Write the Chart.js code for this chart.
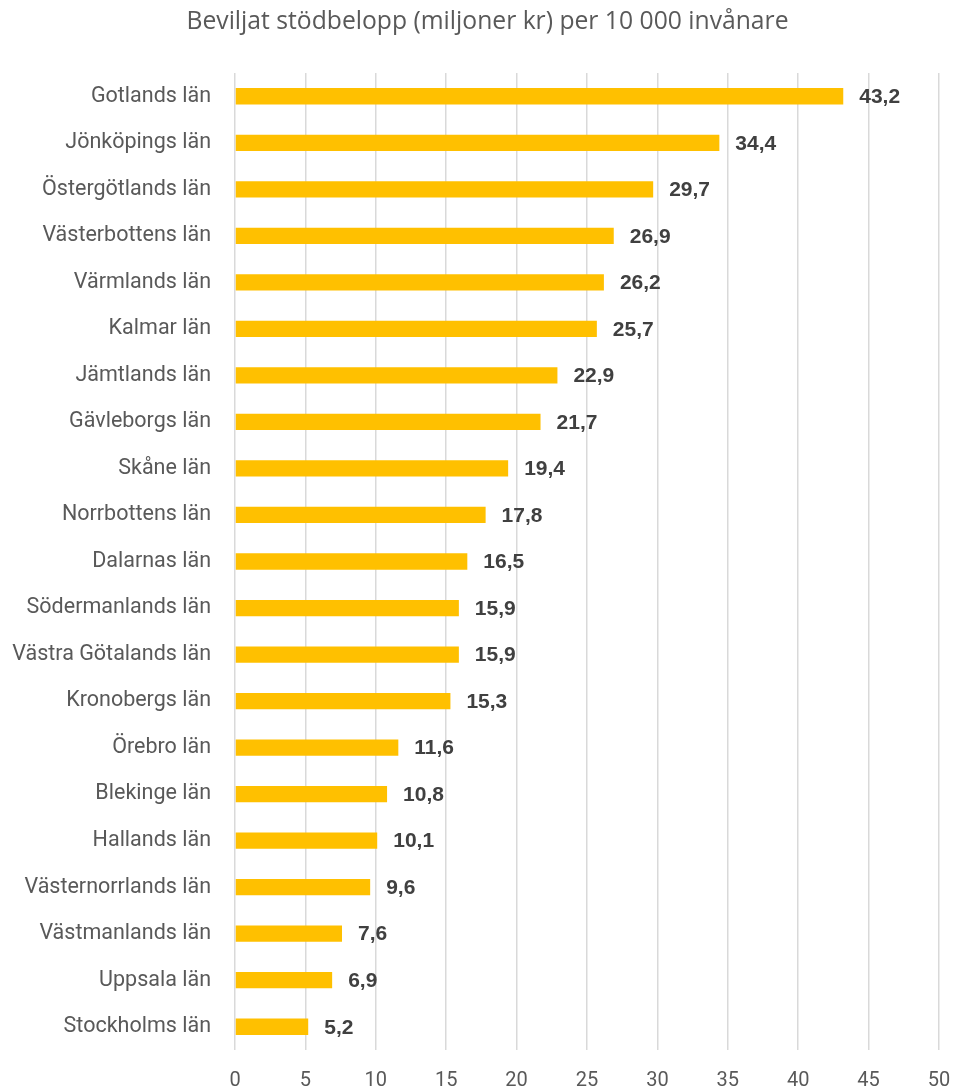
<!DOCTYPE html>
<html>
<head>
<meta charset="utf-8">
<script src="https://cdn.jsdelivr.net/npm/chart.js@4"></script>
<style>
  html, body { margin: 0; padding: 0; background: #ffffff; }
  #wrap { width: 954px; height: 1092px; position: relative; }
</style>
</head>
<body>
<div id="wrap"><canvas id="c" width="954" height="1092"></canvas></div>
<script>
const chartTitle = "Beviljat stödbelopp (miljoner kr) per 10 000 invånare";
const categories = [
  "Gotlands län", "Jönköpings län", "Östergötlands län", "Västerbottens län",
  "Värmlands län", "Kalmar län", "Jämtlands län", "Gävleborgs län",
  "Skåne län", "Norrbottens län", "Dalarnas län", "Södermanlands län",
  "Västra Götalands län", "Kronobergs län", "Örebro län", "Blekinge län",
  "Hallands län", "Västernorrlands län", "Västmanlands län", "Uppsala län",
  "Stockholms län"
];
const values = [
  43.2, 34.4, 29.7, 26.9, 26.2, 25.7, 22.9, 21.7, 19.4, 17.8, 16.5,
  15.9, 15.9, 15.3, 11.6, 10.8, 10.1, 9.6, 7.6, 6.9, 5.2
];
const xMin = 0, xMax = 50, xStep = 5;

const valueLabels = {
  id: 'valueLabels',
  afterDatasetsDraw(chart) {
    const ctx = chart.ctx;
    const meta = chart.getDatasetMeta(0);
    ctx.save();
    ctx.font = 'bold 21px "Liberation Sans"';
    ctx.fillStyle = '#404040';
    ctx.textAlign = 'left';
    ctx.textBaseline = 'middle';
    meta.data.forEach((bar, i) => {
      const v = chart.data.datasets[0].data[i];
      ctx.fillText(v.toFixed(1).replace('.', ','), bar.x + 16, bar.y + 1);
    });
    ctx.restore();
  }
};

const titleText = {
  id: 'titleText',
  afterDraw(chart) {
    const ctx = chart.ctx;
    ctx.save();
    ctx.font = '24.7px "Open Sans"';
    ctx.fillStyle = '#595959';
    ctx.textAlign = 'center';
    ctx.textBaseline = 'middle';
    ctx.fillText(chartTitle, 487.5, 22);
    ctx.restore();
  }
};

new Chart(document.getElementById('c'), {
  type: 'bar',
  data: {
    labels: categories,
    datasets: [{
      data: values,
      backgroundColor: '#FFC000',
      borderWidth: 0,
      categoryPercentage: 1,
      barPercentage: 0.35
    }]
  },
  plugins: [valueLabels, titleText],
  options: {
    indexAxis: 'y',
    responsive: false,
    animation: false,
    layout: { padding: { left: 0, right: 15, top: 73, bottom: 0 } },
    plugins: {
      legend: { display: false },
      tooltip: { enabled: false },
      title: { display: false }
    },
    scales: {
      x: {
        min: xMin, max: xMax,
        ticks: {
          stepSize: xStep,
          color: '#595959',
          font: { family: 'Roboto', size: 20 },
          padding: 19
        },
        grid: { color: '#D9D9D9', lineWidth: 1.5, drawTicks: false },
        border: { display: false },
        afterFit(scale) { scale.height = 42; scale.paddingRight = 0; scale.paddingLeft = 0; }
      },
      y: {
        ticks: {
          color: '#595959',
          font: { family: 'Roboto', size: 21.5 },
          padding: 24,
          autoSkip: false
        },
        grid: { display: false, drawTicks: false },
        border: { display: false },
        afterFit(scale) { scale.width = 235; scale.paddingTop = 0; scale.paddingBottom = 0; }
      }
    }
  }
});
</script>
</body>
</html>
